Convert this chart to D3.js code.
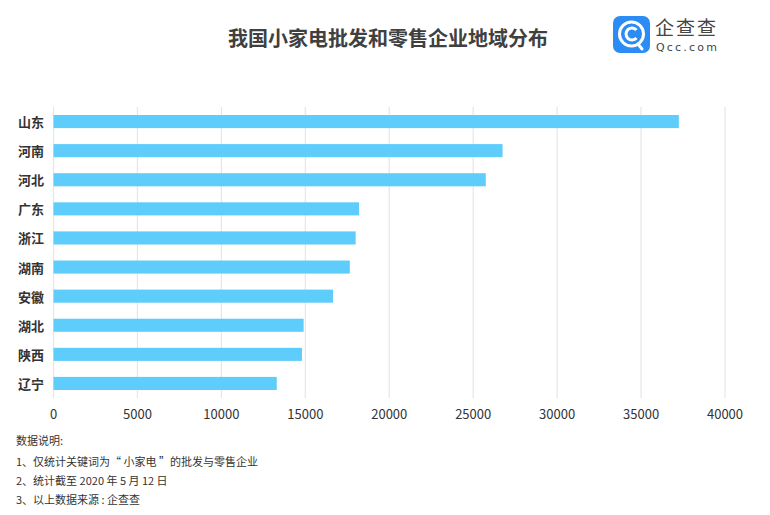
<!DOCTYPE html>
<html><head><meta charset="utf-8">
<script src="https://cdn.jsdelivr.net/npm/d3@7"></script>
<style>
html,body{margin:0;padding:0;background:#fff;}
svg{display:block;font-family:"Noto Sans CJK SC","Noto Sans",sans-serif;}
</style></head>
<body>
<svg id="c" width="770" height="515"></svg>
<script>
const categories = ["山东","河南","河北","广东","浙江","湖南","安徽","湖北","陕西","辽宁"];
const values = [37250, 26750, 25750, 18200, 18000, 17650, 16650, 14900, 14800, 13300];
const xTicks = [0,5000,10000,15000,20000,25000,30000,35000,40000];
const title = "我国小家电批发和零售企业地域分布";
const notes = ["数据说明:","1、仅统计关键词为“ 小家电 ”的批发与零售企业","2、统计截至 2020 年 5 月 12 日","3、以上数据来源 : 企查查"];

const svg = d3.select("#c");
const m = {left:53.5, right:725, top:107, bottom:398};
const x = d3.scaleLinear().domain([0,40000]).range([m.left,m.right]);
const y = d3.scaleBand().domain(categories).range([m.top,m.bottom]).paddingInner(0.55).paddingOuter(0.275);

svg.append("text").attr("x",388).attr("y",37).attr("text-anchor","middle").attr("dominant-baseline","central")
  .attr("font-size",20).attr("font-weight","bold").attr("fill","#404040").text(title);

// logo
const lg = svg.append("g");
lg.append("rect").attr("x",613).attr("y",16).attr("width",37).attr("height",37).attr("rx",7).attr("fill","#2b8cf3");
lg.append("circle").attr("cx",631.5).attr("cy",34).attr("r",12).attr("fill","none").attr("stroke","#fff").attr("stroke-width",3);
lg.append("path").attr("d","M636.5,30 A6,6 0 1 0 636.5,38").attr("fill","none").attr("stroke","#fff").attr("stroke-width",3);
lg.append("path").attr("d","M638,44 L642,49").attr("stroke","#fff").attr("stroke-width",3).attr("stroke-linecap","round");
lg.append("text").attr("x",655).attr("y",26).attr("dominant-baseline","central").attr("font-size",19).attr("letter-spacing",2).attr("fill","#444").text("企查查");
lg.append("text").attr("x",656).attr("y",47).attr("dominant-baseline","central").attr("font-size",11).attr("letter-spacing",2.2).attr("fill","#444").attr("font-family","DejaVu Sans").text("Qcc.com");

// grid
svg.append("g").selectAll("line").data(xTicks).join("line")
  .attr("x1",d=>x(d)).attr("x2",d=>x(d)).attr("y1",m.top).attr("y2",m.bottom)
  .attr("stroke","#e6e6e6").attr("stroke-width",1.2);

// bars
svg.append("g").selectAll("rect").data(values).join("rect")
  .attr("x",x(0)).attr("y",(d,i)=>y(categories[i])).attr("width",d=>x(d)-x(0)).attr("height",y.bandwidth())
  .attr("fill","#5fcdfc");

// y labels
svg.append("g").selectAll("text").data(categories).join("text")
  .attr("x",44).attr("y",d=>y(d)+y.bandwidth()/2).attr("text-anchor","end").attr("dominant-baseline","central")
  .attr("font-size",13).attr("font-weight","bold").attr("fill","#333").text(d=>d);

// x tick labels
svg.append("g").selectAll("text").data(xTicks).join("text")
  .attr("x",d=>x(d)).attr("y",413).attr("text-anchor","middle").attr("dominant-baseline","central")
  .attr("font-size",13).attr("fill","#333").text(d=>d);

// notes
const ny=[440,461,480,499];
svg.append("g").selectAll("text").data(notes).join("text")
  .attr("x",16).attr("y",(d,i)=>ny[i]).attr("dominant-baseline","central")
  .attr("font-size",11).attr("fill","#333").text(d=>d);
</script>
</body></html>
